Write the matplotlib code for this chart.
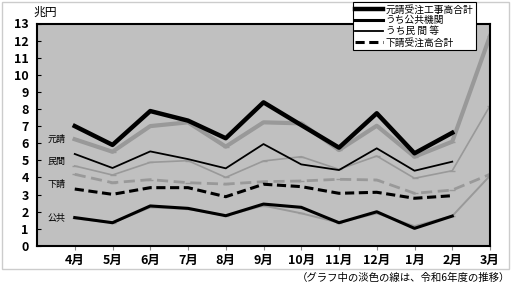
import numpy as np
import matplotlib.pyplot as plt
from matplotlib.patches import Rectangle

plt.rcParams['font.family'] = ['Noto Sans CJK JP', 'DejaVu Sans']

months = ['4月', '5月', '6月', '7月', '8月', '9月', '10月', '11月', '12月', '1月', '2月', '3月']

# current year (Apr - Feb)
motouke = [7.0, 5.9, 7.88, 7.32, 6.29, 8.39, 7.06, 5.74, 7.75, 5.41, 6.61]
koukyou = [1.65, 1.35, 2.33, 2.19, 1.76, 2.44, 2.25, 1.35, 1.99, 1.02, 1.74]
minkan = [5.37, 4.55, 5.52, 5.07, 4.53, 5.95, 4.76, 4.43, 5.7, 4.39, 4.92]
shitauke = [3.32, 3.01, 3.4, 3.4, 2.87, 3.6, 3.46, 3.07, 3.13, 2.78, 2.93]

# previous year (Apr - Mar), light lines
motouke_prev = [6.23, 5.5, 7.0, 7.22, 5.8, 7.22, 7.16, 5.6, 7.02, 5.21, 6.09, 12.27]
koukyou_prev = [1.6, 1.35, 2.25, 2.15, 1.76, 2.35, 1.9, 1.35, 1.9, 1.15, 1.74, 4.1]
minkan_prev = [4.67, 4.14, 4.88, 4.98, 4.0, 4.96, 5.21, 4.47, 5.25, 3.95, 4.39, 8.19]
shitauke_prev = [4.18, 3.69, 3.87, 3.69, 3.61, 3.75, 3.79, 3.89, 3.85, 3.07, 3.26, 4.18]

legend_labels = ['元請受注工事高合計', 'うち公共機関', 'うち民 間 等', '下請受注高合計']

fig = plt.figure(figsize=(5.13, 2.83), dpi=100)
fig.patches.append(Rectangle((2 / 513, 14 / 283), 507 / 513, 267 / 283, transform=fig.transFigure,
                             fill=False, edgecolor='#cccccc', linewidth=1))
ax = fig.add_axes([37 / 513, 37.2 / 283, 453 / 513, 222.3 / 283])
ax.set_facecolor('#c0c0c0')

x_all = np.arange(1, 13)
x_cur = x_all[:len(motouke)]
grey = '#999999'

ax.plot(x_all, motouke_prev, color=grey, lw=3, marker='_', ms=4)
ax.plot(x_all, minkan_prev, color=grey, lw=1.2, marker='_', ms=4)
ax.plot(x_all, shitauke_prev, color=grey, lw=2, ls=(0, (4, 2)), marker='_', ms=4)
ax.plot(x_all, koukyou_prev, color=grey, lw=1.4, marker='_', ms=4)

l1, = ax.plot(x_cur, motouke, color='black', lw=3.2)
l2, = ax.plot(x_cur, koukyou, color='black', lw=2.2)
l3, = ax.plot(x_cur, minkan, color='black', lw=1.3)
l4, = ax.plot(x_cur, shitauke, color='black', lw=2.2, ls=(0, (3, 1.5)))

ax.set_xlim(0, 12)
ax.set_ylim(0, 13)
ax.set_yticks(range(0, 14))
ax.set_xticks(x_all)
ax.set_xticklabels(months)
ax.tick_params(axis='y', direction='in', length=3, labelsize=9, pad=6)
ax.tick_params(axis='x', direction='out', length=3, labelsize=9, pad=3, color='#888888')
for lab in ax.get_xticklabels() + ax.get_yticklabels():
    lab.set_fontweight('bold')
for s in ax.spines.values():
    s.set_linewidth(1.5)

# inline labels
for txt, yv in [('元請', 6.23), ('民間', 4.95), ('下請', 3.6), ('公共', 1.65)]:
    ax.text(0.75, yv, txt, fontsize=6.5, ha='right', va='center')

ax.text(-0.1, 13.25, '兆円', transform=ax.transData, fontsize=8.5, ha='left', va='bottom',
        clip_on=False)

leg = fig.legend([l1, l2, l3, l4], legend_labels, loc='upper left',
                 bbox_to_anchor=(353 / 513, 1 - 2 / 283), fontsize=7, frameon=True,
                 fancybox=False, edgecolor='black', framealpha=1, handlelength=2.8,
                 borderpad=0.25, labelspacing=0.1, handletextpad=0.3, borderaxespad=0)
leg.get_frame().set_linewidth(0.8)

fig.text(510 / 513, 1 - 278 / 283, '（グラフ中の淡色の線は、令和6年度の推移）', fontsize=7.5,
         ha='right', va='center')

fig.savefig('out.png', dpi=100)
